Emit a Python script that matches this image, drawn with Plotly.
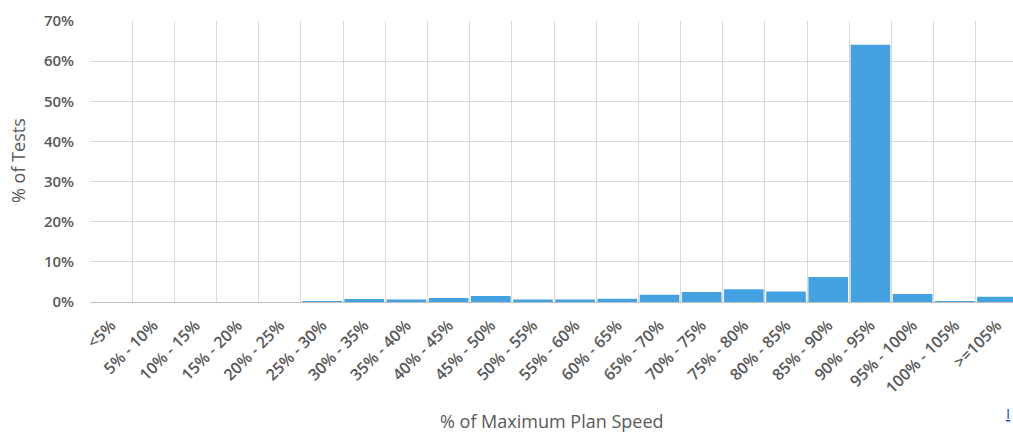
import plotly.graph_objects as go

categories = ["<5%", "5% - 10%", "10% - 15%", "15% - 20%", "20% - 25%", "25% - 30%",
              "30% - 35%", "35% - 40%", "40% - 45%", "45% - 50%", "50% - 55%", "55% - 60%",
              "60% - 65%", "65% - 70%", "70% - 75%", "75% - 80%", "80% - 85%", "85% - 90%",
              "90% - 95%", "95% - 100%", "100% - 105%", ">=105%"]
pct_tests = [0, 0, 0, 0, 0, 0.1,
             0.75, 0.6, 1.0, 1.5, 0.65, 0.65,
             0.8, 1.8, 2.5, 3.2, 2.6, 6.2,
             64.1, 2.0, 0.15, 1.3]
y_ticks = [0, 10, 20, 30, 40, 50, 60, 70]

W, H = 1013, 435
L, R, T, B = 90, 0, 21, 133
plot_w = W - L - R
plot_h = H - T - B

fig = go.Figure()
fig.add_trace(go.Bar(
    x=categories, y=pct_tests,
    marker=dict(color="#45A2E0", line=dict(width=0)),
))

font_family = "Open Sans, Liberation Sans, sans-serif"
grey = "#595959"
fig.update_layout(
    width=W, height=H,
    margin=dict(l=L, r=R, t=T, b=B, autoexpand=False),
    plot_bgcolor="white", paper_bgcolor="white",
    bargap=0.06,
    showlegend=False,
    font=dict(family=font_family, color=grey),
    xaxis=dict(
        type="category",
        range=[-0.5, 21.38],
        tickson="boundaries",
        showgrid=True, gridcolor="#D9D9D9", gridwidth=1,
        ticks="", tickangle=-45,
        tickfont=dict(size=16, color=grey, weight=600),
        ticklabelstandoff=10,
        showline=False, zeroline=False,
        automargin=False,
    ),
    yaxis=dict(
        range=[0, 70],
        tickvals=y_ticks,
        ticktext=[f"{v}%" for v in y_ticks],
        showgrid=True, gridcolor="#D9D9D9", gridwidth=1,
        tickfont=dict(size=15, color=grey, weight=600),
        ticks="", ticklabelstandoff=15,
        zeroline=True, zerolinecolor="#BFBFBF", zerolinewidth=1,
        automargin=False,
    ),
    annotations=[
        dict(text="% of Tests", x=(18 - L) / plot_w, y=(H - B - 161) / plot_h,
             xref="paper", yref="paper",
             showarrow=False, textangle=-90, font=dict(size=18, color=grey),
             xanchor="center", yanchor="middle"),
        dict(text="% of Maximum Plan Speed", x=0.5, y=0, xref="paper", yref="paper",
             showarrow=False, font=dict(size=18, color=grey),
             xanchor="center", yanchor="middle", yshift=-119),
        dict(text="<u>I</u>", x=1, y=0, xref="paper", yref="paper",
             showarrow=False, font=dict(size=15, color="#1F4FBF"),
             xanchor="right", yanchor="middle", yshift=-111, xshift=-1),
    ],
)

fig.write_html("out.html", config={"displayModeBar": False},
               post_script="document.body.style.margin='0px';document.body.style.overflow='hidden';")
